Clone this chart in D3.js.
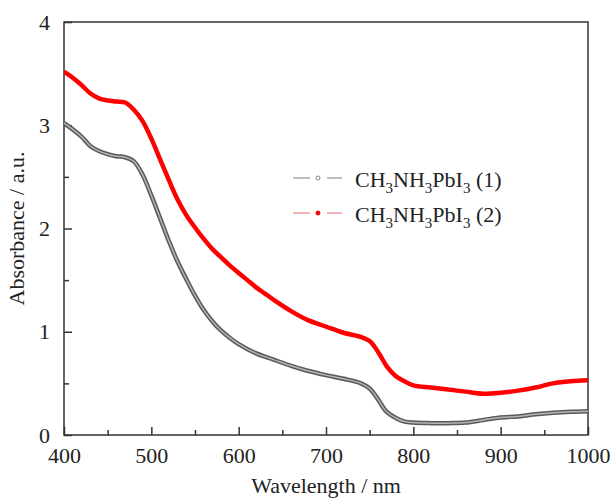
<!DOCTYPE html>
<html><head><meta charset="utf-8">
<script src="https://cdn.jsdelivr.net/npm/d3@7"></script>
<style>body{margin:0;background:#fff}svg{display:block}svg text{font-family:'Liberation Serif','Times New Roman',Times,serif !important;fill:#222}</style>
</head><body><svg id="c" width="611" height="500"></svg>
<script>
const wavelengths1 = [400,410,420,430,440,450,460,470,480,490,500,510,520,530,540,550,560,570,580,590,600,620,640,660,680,700,720,740,750,760,766,770,781,790,800,820,840,860,880,900,920,940,960,980,1000];
const series1 = [3.02,2.96,2.89,2.80,2.75,2.72,2.70,2.69,2.65,2.52,2.32,2.10,1.88,1.68,1.51,1.35,1.21,1.10,1.01,0.94,0.88,0.79,0.73,0.67,0.62,0.58,0.545,0.50,0.45,0.34,0.26,0.22,0.16,0.13,0.12,0.115,0.115,0.12,0.145,0.17,0.18,0.20,0.215,0.225,0.23];
const wavelengths2 = [400,410,420,430,440,450,460,470,480,490,500,510,520,530,540,550,560,570,580,590,600,610,620,630,640,660,680,700,720,740,750,760,770,780,790,800,820,840,860,880,900,920,940,960,980,1000];
const series2 = [3.52,3.46,3.39,3.31,3.26,3.24,3.23,3.22,3.15,3.04,2.87,2.67,2.47,2.28,2.13,2.01,1.90,1.80,1.72,1.64,1.57,1.50,1.43,1.37,1.31,1.20,1.11,1.05,0.99,0.95,0.91,0.80,0.66,0.57,0.52,0.48,0.46,0.44,0.42,0.40,0.41,0.43,0.46,0.50,0.52,0.53];
const xTicks = [400,500,600,700,800,900,1000];
const yTicks = [0,1,2,3,4];
const legendLabels = ["(1)","(2)"];

const FONT = "'Liberation Serif','Times New Roman',Times,serif";
const svg = d3.select("#c");
const L=64,R=588,T=22,B=435;
const x = d3.scaleLinear().domain([400,1000]).range([L,R]);
const y = d3.scaleLinear().domain([0,4]).range([B,T]);
const axisColor="#333";

svg.append("rect").attr("x",L).attr("y",T).attr("width",R-L).attr("height",B-T)
  .attr("fill","none").attr("stroke",axisColor).attr("stroke-width",1.5);

const xMinor = d3.range(450,1000,100);
const gx = svg.append("g").attr("transform",`translate(0,${B})`)
  .call(d3.axisBottom(x).tickValues(xTicks).tickSize(-8).tickPadding(12).tickFormat(d3.format("d")));
gx.attr("font-family",FONT);
gx.select(".domain").remove();
gx.selectAll("line").attr("stroke",axisColor).attr("stroke-width",1.5);
gx.selectAll("text").attr("font-size",22).attr("font-family",FONT).attr("fill","#222");
svg.append("g").attr("transform",`translate(0,${B})`)
  .call(d3.axisBottom(x).tickValues(xMinor).tickSize(-5).tickFormat(""))
  .call(g=>{g.select(".domain").remove();g.selectAll("line").attr("stroke",axisColor).attr("stroke-width",1.5);});

const yMinor = d3.range(0.5,4,1);
const gy = svg.append("g").attr("transform",`translate(${L},0)`)
  .call(d3.axisLeft(y).tickValues(yTicks).tickSize(-8).tickPadding(14).tickFormat(d3.format("d")));
gy.attr("font-family",FONT);
gy.select(".domain").remove();
gy.selectAll("line").attr("stroke",axisColor).attr("stroke-width",1.5);
gy.selectAll("text").attr("font-size",22).attr("font-family",FONT).attr("fill","#222");
svg.append("g").attr("transform",`translate(${L},0)`)
  .call(d3.axisLeft(y).tickValues(yMinor).tickSize(-5).tickFormat(""))
  .call(g=>{g.select(".domain").remove();g.selectAll("line").attr("stroke",axisColor).attr("stroke-width",1.5);});

svg.append("text").attr("x",(L+R)/2).attr("y",493).attr("text-anchor","middle").attr("font-size",22).attr("font-family",FONT)
  .text("Wavelength / nm");
svg.append("text").attr("transform",`translate(24,${(T+B)/2}) rotate(-90)`).attr("text-anchor","middle").attr("font-size",22).attr("font-family",FONT)
  .text("Absorbance / a.u.");

const line = d3.line().x(d=>x(d[0])).y(d=>y(d[1])).curve(d3.curveCatmullRom.alpha(0.5));
const d1 = wavelengths1.map((w,i)=>[w,series1[i]]);
const d2 = wavelengths2.map((w,i)=>[w,series2[i]]);
svg.append("clipPath").attr("id","clp").append("rect").attr("x",L).attr("y",T).attr("width",R-L).attr("height",B-T);
const plot = svg.append("g").attr("clip-path","url(#clp)");
plot.append("path").datum(d1).attr("d",line).attr("fill","none").attr("stroke","#5a5a5a").attr("stroke-width",4.5);
plot.append("path").datum(d1).attr("d",line).attr("fill","none").attr("stroke","#b5b5b5").attr("stroke-width",1.5);
plot.append("path").datum(d2).attr("d",line).attr("fill","none").attr("stroke","#f00").attr("stroke-width",4.5);

const leg = svg.append("g").attr("font-family",FONT);
const rows = [{y:178, line:"#aaa", dot:"#fff", dotStroke:"#888", r:2},{y:213, line:"#f59a9a", dot:"#e00", dotStroke:"#e00", r:2}];
rows.forEach((r,i)=>{
  leg.append("line").attr("x1",293).attr("x2",310).attr("y1",r.y).attr("y2",r.y).attr("stroke",r.line).attr("stroke-width",1.5);
  leg.append("line").attr("x1",327).attr("x2",342).attr("y1",r.y).attr("y2",r.y).attr("stroke",r.line).attr("stroke-width",1.5);
  leg.append("circle").attr("cx",318).attr("cy",r.y).attr("r",r.r).attr("fill",r.dot).attr("stroke",r.dotStroke).attr("stroke-width",1);
  const t = leg.append("text").attr("x",355).attr("y",r.y+9).attr("font-size",22).attr("font-family",FONT);
  const parts = [["CH",0],["3",1],["NH",0],["3",1],["PbI",0],["3",1],[" "+legendLabels[i],0]];
  parts.forEach(([s,sub])=>{
    t.append("tspan").attr("dy",sub? 6 : (s==="CH"?0:-6)).attr("font-size",sub?15:22).text(s);
  });
});
</script></body></html>
